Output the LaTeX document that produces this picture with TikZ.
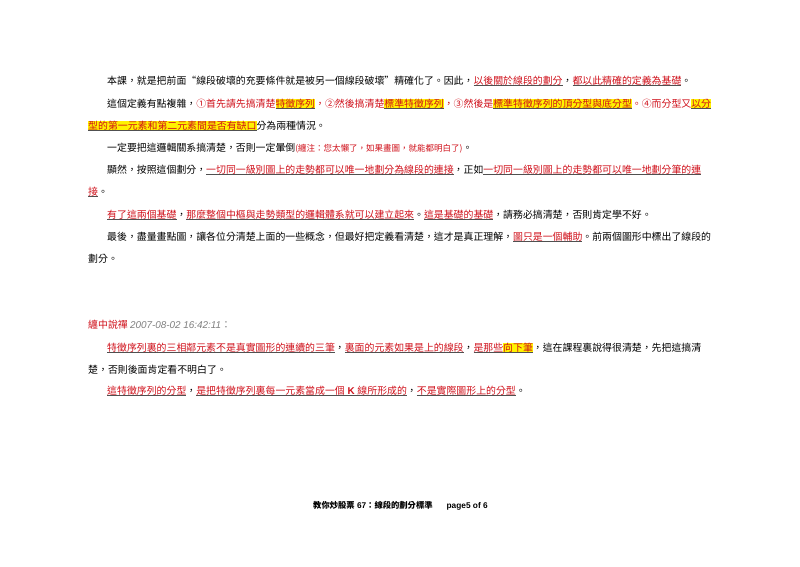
\documentclass[tikz,border=0pt]{standalone}
\usepackage{fontspec}
\setmainfont{Noto Sans CJK TC}
\newfontfamily\lat{Liberation Sans}
\definecolor{rd}{HTML}{D0101A}
\definecolor{ulc}{HTML}{505050}
\newsavebox\ubox
\newcommand\ulx[1]{\sbox\ubox{#1}\rlap{\textcolor{ulc}{\rule[-2.2pt]{\wd\ubox}{0.9pt}}}\usebox\ubox}
\newcommand\R[1]{\ulx{\textcolor{rd}{#1}}}
\newcommand\Y[1]{{\setlength\fboxsep{0pt}\colorbox{yellow}{\ulx{\textcolor{rd}{#1}}}}}
\begin{document}
\begin{tikzpicture}[x=1pt,y=-1pt,
  t/.style={anchor=base west,inner sep=0pt,font=\fontsize{9.9}{12}\selectfont}]
\fill[white] (0,0) rectangle (800,566);
\node[t] (l1) at (107,84) {本課，就是把前面“線段破壞的充要條件就是被另一個線段破壞”精確化了。因此，\R{以後關於線段的劃分}，\R{都以此精確的定義為基礎}。};
\node[t] (l2) at (107,107) {這個定義有點複雜，\textcolor{rd}{①首先請先搞清楚}\Y{特徵序列}\textcolor{rd}{，②然後搞清楚}\Y{標準特徵序列}\textcolor{rd}{，③然後是}\Y{標準特徵序列的頂分型與底分型}\textcolor{rd}{。④而分型又}\Y{以分}};
\node[t] (l3) at (88,129) {\Y{型的第一元素和第二元素間是否有缺口}分為兩種情況。};
\node[t] (l4) at (107,151) {一定要把這邏輯關系搞清楚，否則一定暈倒\textcolor{rd}{\fontsize{8.5}{10}\selectfont(纏注：您太懶了，如果畫圖，就能都明白了)}。};
\node[t] (l5) at (107,173) {顯然，按照這個劃分，\R{一切同一級別圖上的走勢都可以唯一地劃分為線段的連接}，正如\R{一切同一級別圖上的走勢都可以唯一地劃分筆的連}};
\node[t] (l6) at (88,195) {\R{接}。};
\node[t] (l7) at (107,218) {\R{有了這兩個基礎}，\R{那麼整個中樞與走勢類型的邏輯體系就可以建立起來}。\R{這是基礎的基礎}，請務必搞清楚，否則肯定學不好。};
\node[t] (l8) at (107,240) {最後，盡量畫點圖，讓各位分清楚上面的一些概念，但最好把定義看清楚，這才是真正理解，\R{圖只是一個輔助}。前兩個圖形中標出了線段的};
\node[t] (l9) at (88,262) {劃分。};
\node[t] (c0) at (88,328) {\textcolor{rd}{纏中說禪} \textcolor{gray}{\lat\itshape 2007-08-02 16:42:11}\textcolor{gray}{：}};
\node[t] (c1) at (107,351) {\R{特徵序列裏的三相鄰元素不是真實圖形的連續的三筆}，\R{裏面的元素如果是上的線段}，\R{是那些}\Y{向下筆}，這在課程裏說得很清楚，先把這搞清};
\node[t] (c2) at (88,373) {楚，否則後面肯定看不明白了。};
\node[t] (c3) at (107,394) {\R{這特徵序列的分型}，\R{是把特徵序列裏每一元素當成一個{\lat\bfseries\ K\ }線所形成的}，\R{不是實際圖形上的分型}。};
\node[anchor=base west,inner sep=0pt,font=\fontsize{8.3}{10}\selectfont\bfseries] (f) at (313,508) {教你炒股票{\lat\bfseries\ 67}：線段的劃分標準\hspace{14pt}{\lat\bfseries page5 of 6}};
\end{tikzpicture}
\end{document}
